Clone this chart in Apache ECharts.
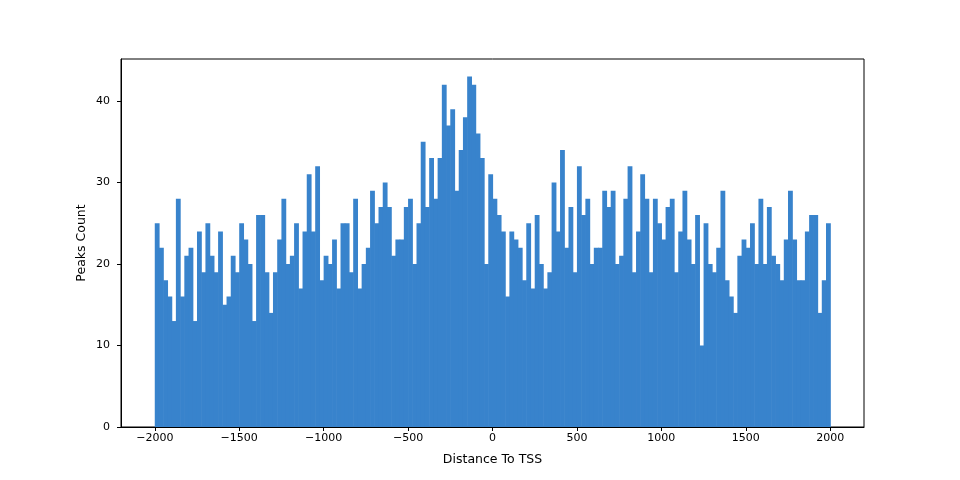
<!DOCTYPE html>
<html>
<head>
<meta charset="utf-8">
<title>Distance To TSS</title>
<script src="https://cdn.jsdelivr.net/npm/echarts@6/dist/echarts.min.js"></script>
<style>
  html, body { margin: 0; padding: 0; background: #fff; }
  #chart { width: 960px; height: 480px; }
</style>
</head>
<body>
<div id="chart"></div>
<script>
// histogram bins: 160 bins of width 25 from -2000 to 2000
const binStart = -2000
const binWidth = 25

// peak counts per bin, left to right
const counts = [
  25, 22, 18, 16, 13, 28, 16, 21, 22, 13, 24, 19, 25, 21, 19, 24, 15, 16, 21, 19,
  25, 23, 20, 13, 26, 26, 19, 14, 19, 23, 28, 20, 21, 25, 17, 24, 31, 24, 32, 18,
  21, 20, 23, 17, 25, 25, 19, 28, 17, 20, 22, 29, 25, 27, 30, 27, 21, 23, 23, 27,
  28, 20, 25, 35, 27, 33, 28, 33, 42, 37, 39, 29, 34, 38, 43, 42, 36, 33, 20, 31,
  28, 26, 24, 16, 24, 23, 22, 18, 25, 17, 26, 20, 17, 19, 30, 24, 34, 22, 27, 19,
  32, 26, 28, 20, 22, 22, 29, 27, 29, 20, 21, 28, 32, 19, 24, 31, 28, 19, 28, 25,
  23, 27, 28, 19, 24, 29, 23, 20, 26, 10, 25, 20, 19, 22, 29, 18, 16, 14, 21, 23,
  22, 25, 20, 28, 20, 27, 21, 20, 18, 23, 29, 23, 18, 18, 24, 26, 26, 14, 18, 25
]

const xTicks = [-2000, -1500, -1000, -500, 0, 500, 1000, 1500, 2000]
const yTicks = [0, 10, 20, 30, 40]

const barColor = '#3883cc'
const font = 'DejaVu Sans'

// [left edge, right edge, count]
const bins = counts.map((c, i) => [binStart + i * binWidth, binStart + (i + 1) * binWidth, c])

const minus = v => (v < 0 ? '\u2212' + Math.abs(v) : String(v))

const option = {
  animation: false,
  grid: {
    left: 121,
    right: 96,
    top: 59,
    bottom: 53,
    show: true,
    borderColor: '#000',
    borderWidth: 1,
    backgroundColor: 'transparent'
  },
  xAxis: {
    type: 'value',
    min: -2200,
    max: 2200,
    name: 'Distance To TSS',
    nameLocation: 'middle',
    nameGap: 26,
    nameTextStyle: { fontFamily: font, fontSize: 12.5, color: '#000' },
    axisLine: { show: true, onZero: false, lineStyle: { color: '#000', width: 1 } },
    axisTick: { show: true, length: 4, customValues: xTicks, lineStyle: { color: '#000' } },
    axisLabel: {
      customValues: xTicks,
      formatter: minus,
      margin: 6,
      fontFamily: font,
      fontSize: 11,
      color: '#000'
    },
    splitLine: { show: false }
  },
  yAxis: {
    type: 'value',
    min: 0,
    max: 45.15,
    name: 'Peaks Count',
    nameLocation: 'middle',
    nameGap: 33,
    nameMoveOverlap: false,
    nameTextStyle: { fontFamily: font, fontSize: 12.5, color: '#000' },
    axisLine: { show: true, onZero: false, lineStyle: { color: '#000', width: 1 } },
    axisTick: { show: true, length: 4, customValues: yTicks, lineStyle: { color: '#000' } },
    axisLabel: {
      customValues: yTicks,
      margin: 11,
      fontFamily: font,
      fontSize: 11,
      color: '#000'
    },
    splitLine: { show: false }
  },
  series: [{
    type: 'custom',
    data: bins,
    encode: { x: [0, 1], y: 2 },
    renderItem: (params, api) => {
      const p0 = api.coord([api.value(0), 0])
      const p1 = api.coord([api.value(1), api.value(2)])
      // small overlap so neighbouring bars leave no seam
      return {
        type: 'rect',
        shape: { x: p0[0], y: p1[1], width: p1[0] - p0[0] + 0.6, height: p0[1] - p1[1] },
        style: { fill: barColor }
      }
    }
  }]
}

const myChart = echarts.init(document.getElementById('chart'))
myChart.setOption(option)
</script>
</body>
</html>
